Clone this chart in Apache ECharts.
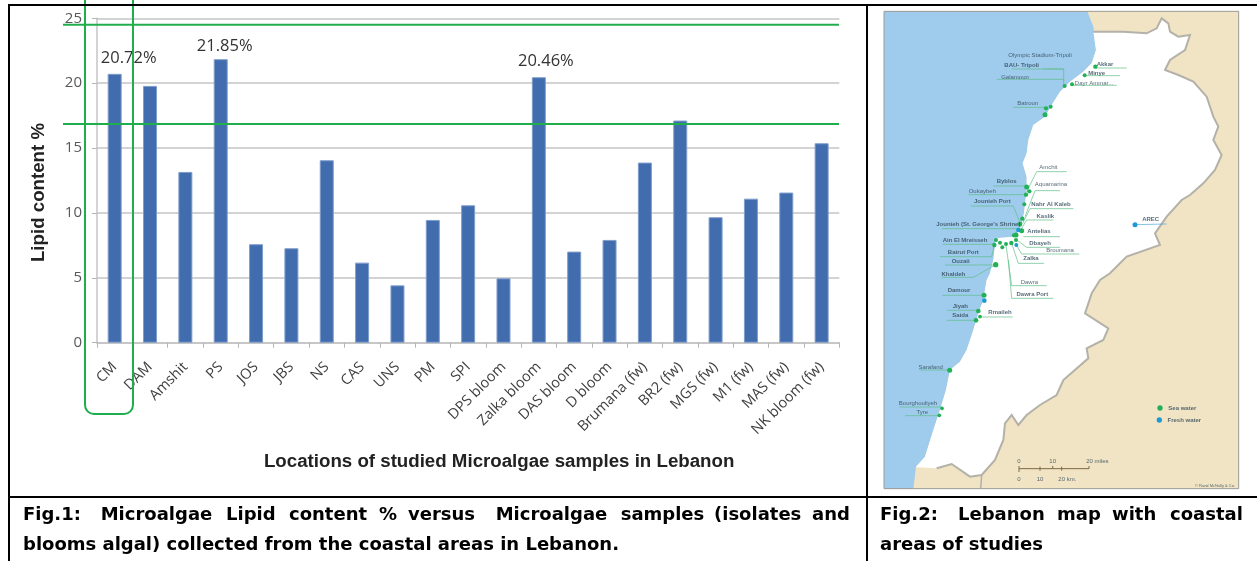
<!DOCTYPE html>
<html><head><meta charset="utf-8">
<style>html,body{margin:0;padding:0;background:#fff}#c{width:1257px;height:561px}</style>
<script src="https://cdn.jsdelivr.net/npm/echarts@6/dist/echarts.min.js"></script>
</head><body><div id="c"></div>
<script>
// ---- Fig.1 data ----
const categories = ['CM','DAM','Amshit','PS','JOS','JBS','NS','CAS','UNS','PM','SPI','DPS bloom','Zalka bloom','DAS bloom','D bloom','Brumana (fw)','BR2 (fw)','MGS (fw)','M1 (fw)','MAS (fw)','NK bloom (fw)'];
const lipidValues = [20.72,19.79,13.16,21.85,7.59,7.28,14.06,6.17,4.42,9.46,10.59,4.96,20.46,7.02,7.92,13.88,17.12,9.67,11.1,11.57,15.37];
const labelledBars = ['CM','PS','Zalka bloom'];

// ---- Fig.2 map, in map units (3 units = 1 screen pixel) ----
const coastline = [[652,34],[670,80],[678,150],[665,190],[640,215],[600,245],[570,275],[545,315],[525,350],[490,375],[475,420],[470,460],[458,490],[470,530],[470,570],[462,640],[450,690],[430,710],[378,715],[370,780],[360,820],[350,840],[340,900],[325,940],[310,990],[290,1050],[270,1085],[240,1110],[228,1170],[210,1230],[190,1290],[165,1370],[138,1400],[130,1466]];
const landEdge = [[670,95],[760,95],[830,100],[860,85],[875,55],[895,70],[900,95],[925,110],[960,105],[945,150],[900,180],[885,210],[925,225],[970,245],[1010,290],[1030,350],[1045,380],[1030,420],[1055,465],[1035,510],[1000,550],[960,585],[935,600],[890,650],[855,700],[870,735],[770,770],[720,820],[690,840],[665,880],[645,940],[715,985],[700,1020],[650,1045],[655,1075],[580,1140],[560,1185],[510,1215],[470,1245],[445,1275],[425,1245],[405,1270],[400,1320],[375,1380],[335,1425],[300,1430],[245,1392],[200,1405],[138,1402]];
const innerBorder = [[335,1425],[332,1466]];
const seaDots = [[676,200,10],[644,226,9],[606,253,9],[584,258,9],[528,325,10],[542,320,9],[525,344,12],[470,561,12],[468,584,10],[478,574,10],[463,613,9],[457,656,10],[450,672,11],[455,692,12],[438,705,12],[432,706,10],[438,720,9],[424,729,10],[378,720,9],[373,735,10],[390,728,9],[397,742,9],[408,732,9],[377,794,13],[342,886,12],[325,933,11],[318,961,11],[330,950,8],[239,1111,12],[216,1225,8],[208,1246,8],[870,1224,13]];
const freshDots = [[445,690,10],[439,735,9],[343,902,11],[795,674,12],[868,1260,13]];
const mapTexts = [
 ['Olympic Stadium-Tripoli',510,165,0],['BAU- Tripoli',455,196,1],['Galamoun',435,232,0],['Akkar',705,193,1],['Minye',680,221,1],['Dayr Ammar...',672,250,0],['Batroun',473,311,0],
 ['Amchit',535,501,0],['Aquamarina',543,553,0],['Byblos',410,545,1],['Oukaybeh',337,573,0],['Jounieh Port',367,604,1],['Nahr Al Kaleb',543,612,1],['Kaslik',526,649,1],
 ["Jounieh (St. George's Shrine)",325,674,1],['Antelias',507,695,1],['Ain El Mreisseh',285,722,1],['Dbayeh',510,729,1],['Broumana',570,752,0],['Bairut Port',280,757,1],['Zalka',483,776,1],['Ouzaii',272,783,1],['Khaldeh',250,822,1],
 ['Dawra',478,847,0],['Dawra Port',487,884,1],['Damour',267,870,1],['Jiyah',271,918,1],['Rmaileh',390,937,1],['Saida',271,947,1],['Sarafand',182,1101,0],['Bourghouliyeh',144,1209,0],['Tyre',157,1236,0],['AREC',842,658,1],
 ['Sea water',937,1226,1],['Fresh water',943,1260,1],
 ['0',447,1385,0],['10',548,1385,0],['20 miles',682,1385,0],['0',447,1437,0],['10',510,1437,0],['20 km.',592,1437,0],
 ['© Rand McNally & Co.',1035,1457,0]
];
const leaderLines = [
 [[520,207],[581,207],[581,258]],[[425,207],[581,207]],[[380,238],[581,238]],[[676,204],[770,204]],[[644,227],[750,227]],[[606,256],[740,256]],[[430,322],[530,322]],
 [[590,515],[500,515],[470,575]],[[570,572],[495,572],[465,650]],[[370,558],[470,558]],[[295,584],[470,584]],[[302,618],[430,618],[455,680]],[[610,626],[480,626],[458,670]],[[550,660],[470,660],[452,690]],
 [[215,686],[445,686]],[[570,710],[460,710]],[[570,742],[470,742],[440,720]],[[628,762],[455,762],[439,735]],[[522,790],[445,790],[425,730]],[[218,733],[378,733]],[[210,770],[365,770],[373,735]],[[225,795],[370,795]],[[215,832],[310,832],[377,794]],
 [[530,857],[425,857],[408,735]],[[550,895],[425,895],[415,780]],[[217,886],[342,886]],[[232,931],[325,931]],[[230,961],[318,961]],[[325,951],[428,951]],[[148,1110],[238,1110]],[[88,1221],[215,1221]],[[105,1247],[207,1247]]
];
const freshLines = [[[795,674],[890,672]]];
const scaleBar = [[[447,1406],[657,1406]],[[447,1398],[447,1416]],[[510,1400],[510,1412]],[[548,1398],[548,1406]],[[575,1400],[575,1412]],[[657,1398],[657,1406]]];

// ---- captions ----
const fig1Line1 = [['Fig.1:',23],['Microalgae',100.7],['Lipid',226],['content',289],['%',379],['versus',408],['Microalgae',495.7],['samples',620.7],['(isolates',714],['and',812]];
const fig1Line2 = 'blooms algal) collected from the coastal areas in Lebanon.';
const fig2Line1 = [['Fig.2:',880],['Lebanon',958],['map',1057],['with',1112],['coastal',1170]];
const fig2Line2 = 'areas of studies';

const GREEN = '#1fae4b';
const labelOffsets = {'CM':[14,-2],'PS':[4,1],'Zalka bloom':[7,-2]};

function shape(points, kind, style, z){
  return {type:'custom',coordinateSystem:'cartesian2d',xAxisIndex:1,yAxisIndex:1,silent:true,z:z||1,clip:false,
    data:[points[0]],
    renderItem:(p,api)=>({type:kind,shape:{points:points.map(q=>api.coord(q))},style:style})};
}
function dots(list,color){
  return {type:'scatter',xAxisIndex:1,yAxisIndex:1,silent:true,z:6,data:list.map(d=>[d[0],d[1]]),
    symbolSize:(v,p)=>list[p.dataIndex][2]/3+1,itemStyle:{color:color,opacity:1}};
}
const captionFont = {fontFamily:'DejaVu Sans',fontWeight:'bold',fontSize:18,fill:'#000',textVerticalAlign:'middle'};
function word(t,x,y){return {type:'text',z:50,silent:true,style:Object.assign({text:t,x:x,y:y},captionFont)};}
function bar(x,y,w,h,c){return {type:'rect',z:40,silent:true,shape:{x,y,width:w,height:h},style:{fill:c||'#000'}};}

const graphics = [
  bar(8,4,1249,2),bar(8,4,2,557),bar(866,4,2,557),bar(8,496,1249,2),
  {type:'line',z:30,silent:true,shape:{x1:63,y1:24.7,x2:839,y2:24.7},style:{stroke:GREEN,lineWidth:2}},
  {type:'line',z:30,silent:true,shape:{x1:63,y1:124,x2:839,y2:124},style:{stroke:GREEN,lineWidth:2}},
  {type:'rect',z:30,silent:true,shape:{x:85,y:-20,width:48,height:434,r:[0,0,9,9]},style:{fill:'none',stroke:GREEN,lineWidth:2}}
];
fig1Line1.forEach(w=>graphics.push(word(w[0],w[1],515)));
graphics.push(word(fig1Line2,23,545));
fig2Line1.forEach(w=>graphics.push(word(w[0],w[1],515)));
graphics.push(word(fig2Line2,880,545));

const chart = echarts.init(document.getElementById('c'),null,{renderer:'canvas'});
chart.setOption({
  animation:false,backgroundColor:'#fff',
  grid:[
    {left:97,top:18.3,width:742.3,height:324.4},
    {left:884,top:11.33,width:354.67,height:477.33}
  ],
  xAxis:[
    {type:'category',gridIndex:0,data:categories,
      axisLine:{lineStyle:{color:'#c4c4c4',width:1.5}},
      axisTick:{show:true,alignWithLabel:false,length:5,lineStyle:{color:'#b5b5b5',width:1}},
      axisLabel:{interval:0,rotate:45,color:'#404040',fontFamily:'Open Sans',fontSize:14.5,margin:22},
      name:'Locations of studied Microalgae samples in Lebanon',nameLocation:'middle',nameGap:110,
      nameTextStyle:{fontFamily:'Liberation Sans',fontWeight:'bold',fontSize:18.7,color:'#222',padding:[0,0,0,62]}},
    {type:'value',gridIndex:1,min:42,max:1106,show:false}
  ],
  yAxis:[
    {type:'value',gridIndex:0,min:0,max:25,interval:5,
      axisLine:{show:true,lineStyle:{color:'#c4c4c4',width:1.5}},
      axisTick:{show:true,length:5,lineStyle:{color:'#b5b5b5',width:1}},
      axisLabel:{color:'#595959',fontFamily:'Open Sans',fontSize:15,margin:15},
      splitLine:{show:true,lineStyle:{color:'#c4c4c4',width:1.5}},
      name:'Lipid content %',nameLocation:'middle',nameGap:49,
      nameTextStyle:{fontFamily:'Liberation Sans',fontWeight:'bold',fontSize:18.7,color:'#222',padding:[0,24,0,0]}},
    {type:'value',gridIndex:1,min:34,max:1466,inverse:true,show:false}
  ],
  graphic:{elements:graphics},
  series:[
    {type:'bar',xAxisIndex:0,yAxisIndex:0,barWidth:14,z:3,
      itemStyle:{color:'#416cae',borderColor:'#7f9dcb',borderWidth:1},
      data:lipidValues.map((v,i)=>{
        const name=categories[i];
        return labelledBars.includes(name)
          ? {value:v,label:{show:true,position:'top',offset:labelOffsets[name],formatter:'{c}%',fontFamily:'Open Sans',fontSize:16.5,color:'#333'}}
          : v;
      })},
    shape([[42,34],[1106,34],[1106,1466],[42,1466]],'polygon',{fill:'#f1e4c4'},1),
    shape([[42,34]].concat(coastline,[[42,1466]]),'polygon',{fill:'#9fcbec'},2),
    shape(landEdge.concat(coastline.slice(2,-1).reverse()),'polygon',{fill:'#fff'},3),
    shape(landEdge.slice(0,-1),'polyline',{fill:'none',stroke:'#b3b1a8',lineWidth:2},4),
    shape(innerBorder,'polyline',{fill:'none',stroke:'#b3b1a8',lineWidth:1.5},4),
    shape([[42,34],[1106,34],[1106,1466],[42,1466],[42,34]],'polyline',{fill:'none',stroke:'#9a9a94',lineWidth:1},4)
  ].concat(
    leaderLines.map(l=>shape(l,'polyline',{fill:'none',stroke:'#5fbf8a',lineWidth:0.7},5)),
    freshLines.map(l=>shape(l,'polyline',{fill:'none',stroke:'#4fa9dc',lineWidth:0.7},5)),
    scaleBar.map(l=>shape(l,'polyline',{fill:'none',stroke:'#7b6a45',lineWidth:1},5)),
    [dots(seaDots,'#22b157'),dots(freshDots,'#1b9ad6'),
     {type:'scatter',xAxisIndex:1,yAxisIndex:1,silent:true,z:7,symbolSize:0,
      data:mapTexts.map(t=>({value:[t[1],t[2]],label:{fontWeight:t[3]?'bold':'normal',fontSize:t[0][0]==='©'?4:6}})),
      label:{show:true,position:'inside',color:'#2f4858',fontFamily:'Liberation Sans',fontSize:6,
        formatter:p=>mapTexts[p.dataIndex][0]}}]
  )
});
</script></body></html>
